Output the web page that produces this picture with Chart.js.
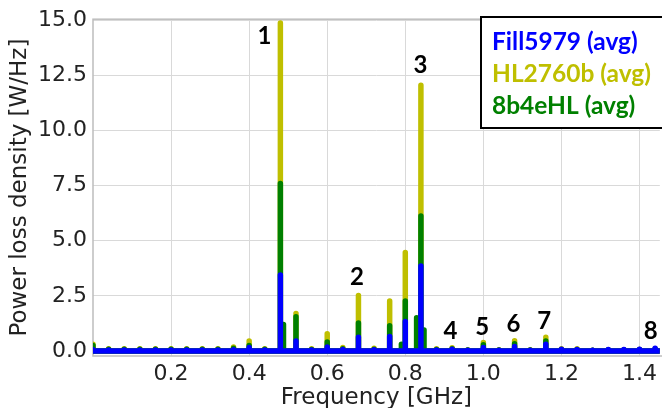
<!DOCTYPE html>
<html>
<head>
<meta charset="utf-8">
<script src="https://cdn.jsdelivr.net/npm/chart.js@4.4.1/dist/chart.umd.min.js"></script>
<style>
  html, body { margin: 0; padding: 0; background: #fff; }
  #wrap { width: 662px; height: 408px; }
</style>
</head>
<body>
<div id="wrap"><canvas id="chart" width="662" height="408"></canvas></div>
<script>
// harmonic lines of the spectrum, GHz
const harmonics = [0.00, 0.04, 0.08, 0.12, 0.16, 0.20, 0.24, 0.28, 0.32, 0.36,
                   0.40, 0.44, 0.48, 0.52, 0.56, 0.60, 0.64, 0.68, 0.72, 0.76,
                   0.80, 0.84, 0.88, 0.92, 0.96, 1.00, 1.04, 1.08, 1.12, 1.16,
                   1.20, 1.24, 1.28, 1.32, 1.36, 1.40, 1.44];

// power loss density at each harmonic, W/Hz
const fill5979 = [0.05, 0.04, 0.04, 0.04, 0.04, 0.04, 0.04, 0.04, 0.04, 0.05,
                  0.15, 0.04, 3.45, 0.45, 0.04, 0.18, 0.06, 0.62, 0.05, 0.66,
                  1.33, 3.85, 0.04, 0.08, 0.03, 0.16, 0.03, 0.20, 0.03, 0.30,
                  0.08, 0.06, 0.03, 0.06, 0.06, 0.08, 0.12];
const hl2760b  = [0.30, 0.10, 0.10, 0.10, 0.10, 0.10, 0.10, 0.10, 0.10, 0.18,
                  0.45, 0.10, 14.88, 1.70, 0.10, 0.78, 0.15, 2.52, 0.12, 2.27,
                  4.46, 12.05, 0.10, 0.14, 0.05, 0.38, 0.05, 0.46, 0.05, 0.62,
                  0.10, 0.10, 0.03, 0.05, 0.05, 0.06, 0.10];
const b4eHL    = [0.25, 0.08, 0.08, 0.08, 0.08, 0.08, 0.08, 0.08, 0.08, 0.12,
                  0.25, 0.08, 7.60, 1.55, 0.07, 0.40, 0.10, 1.27, 0.08, 1.14,
                  2.26, 6.12, 0.07, 0.10, 0.04, 0.28, 0.04, 0.33, 0.04, 0.45,
                  0.07, 0.07, 0.03, 0.05, 0.05, 0.06, 0.08];

// extra side lines seen only in the 8b4eHL spectrum
const sideFreqs = [0.488, 0.790, 0.829, 0.848];
const sideB4eHL = [1.20, 0.30, 1.50, 0.95];

const seriesNames = ['Fill5979 (avg)', 'HL2760b (avg)', '8b4eHL (avg)'];
const seriesColors = ['#0000ff', '#bfbf00', '#008000'];

const xTicks = [0.2, 0.4, 0.6, 0.8, 1.0, 1.2, 1.4];
const yTicks = [0, 2.5, 5, 7.5, 10, 12.5, 15];

// numbered peak markers (frequency, level)
const peakNames  = ['1', '2', '3', '4', '5', '6', '7', '8'];
const peakFreqs  = [0.439, 0.676, 0.839, 0.916, 0.997, 1.077, 1.156, 1.429];
const peakLevels = [14.28, 3.34, 12.97, 0.90, 1.08, 1.22, 1.36, 0.90];

const X_MIN = 0, X_MAX = 1.452;
const Y_MIN = -0.23, Y_MAX = 15.05;

function spectrum(values, extraF, extraV) {
    const lines = harmonics.map((f, i) => [f, values[i]]);
    if (extraF) extraF.forEach((f, i) => lines.push([f, extraV[i]]));
    lines.sort((a, b) => a[0] - b[0]);
    const pts = [];
    lines.forEach(([f, v]) => {
        pts.push({ x: f, y: 0 }, { x: f, y: v }, { x: f, y: 0 });
    });
    pts.push({ x: X_MAX, y: 0 });
    return pts;
}

function lineSet(i, pts, order) {
    return {
        label: seriesNames[i],
        data: pts,
        borderColor: seriesColors[i],
        backgroundColor: seriesColors[i],
        borderWidth: 5.5,
        borderJoinStyle: 'round',
        borderCapStyle: 'round',
        pointRadius: 0,
        tension: 0,
        fill: false,
        clip: 0,
        order: order
    };
}

const frameBox = {
    id: 'frameBox',
    beforeDatasetsDraw(chart) {
        const a = chart.chartArea, ctx = chart.ctx;
        ctx.save();
        ctx.strokeStyle = '#bdbdbd';
        ctx.lineWidth = 1.5;
        ctx.strokeRect(a.left, a.top, a.right - a.left + 4, a.bottom - a.top);
        ctx.restore();
    }
};

const peakMarks = {
    id: 'peakMarks',
    afterDatasetsDraw(chart) {
        const ctx = chart.ctx, sx = chart.scales.x, sy = chart.scales.y;
        ctx.save();
        ctx.font = 'bold 24px Lato';
        ctx.fillStyle = '#000';
        ctx.textAlign = 'center';
        ctx.textBaseline = 'middle';
        peakNames.forEach((t, i) => {
            ctx.fillText(t, sx.getPixelForValue(peakFreqs[i]), sy.getPixelForValue(peakLevels[i]));
        });
        ctx.restore();
    }
};

const boxLegend = {
    id: 'boxLegend',
    afterDraw(chart) {
        const ctx = chart.ctx;
        ctx.save();
        ctx.fillStyle = '#fff';
        ctx.fillRect(481, 17, 190, 111);
        ctx.strokeStyle = '#000';
        ctx.lineWidth = 2;
        ctx.strokeRect(481, 17, 190, 111);
        ctx.font = 'bold 24.5px Lato';
        ctx.textAlign = 'left';
        ctx.textBaseline = 'middle';
        seriesNames.forEach((name, k) => {
            ctx.fillStyle = seriesColors[k];
            ctx.fillText(name, 492, 42 + k * 32);
        });
        ctx.restore();
    }
};

const tickFont = { family: 'DejaVu Sans', size: 22 };
const titleFont = { family: 'DejaVu Sans', size: 23 };

new Chart(document.getElementById('chart'), {
    type: 'line',
    data: {
        datasets: [
            lineSet(0, spectrum(fill5979), 1),
            lineSet(1, spectrum(hl2760b), 3),
            lineSet(2, spectrum(b4eHL, sideFreqs, sideB4eHL), 2)
        ]
    },
    options: {
        responsive: false,
        animation: false,
        devicePixelRatio: 1,
        layout: { padding: { top: 17, right: 0, left: 0, bottom: 0 } },
        plugins: {
            legend: { display: false },
            tooltip: { enabled: false }
        },
        scales: {
            x: {
                type: 'linear',
                min: X_MIN,
                max: X_MAX,
                afterBuildTicks: (s) => { s.ticks = xTicks.map(v => ({ value: v })); },
                afterFit: (s) => { s.height = 52; },
                grid: { color: '#d9d9d9', lineWidth: 1, drawTicks: false },
                border: { display: false },
                ticks: {
                    font: tickFont, color: '#222', padding: 5, maxRotation: 0,
                    callback: (v) => v.toFixed(1)
                },
                title: {
                    display: true, text: 'Frequency [GHz]', font: titleFont, color: '#222',
                    padding: { top: 0, bottom: -4 }
                }
            },
            y: {
                type: 'linear',
                min: Y_MIN,
                max: Y_MAX,
                afterBuildTicks: (s) => { s.ticks = yTicks.map(v => ({ value: v })); },
                afterFit: (s) => { s.width = 93; },
                grid: { color: '#d9d9d9', lineWidth: 1, drawTicks: false },
                border: { display: false },
                ticks: {
                    font: tickFont, color: '#222', padding: 6,
                    callback: (v) => v.toFixed(1)
                },
                title: {
                    display: true, text: 'Power loss density [W/Hz]', font: titleFont, color: '#222',
                    padding: { top: 6, bottom: 0 }
                }
            }
        }
    },
    plugins: [frameBox, peakMarks, boxLegend]
});
</script>
</body>
</html>
